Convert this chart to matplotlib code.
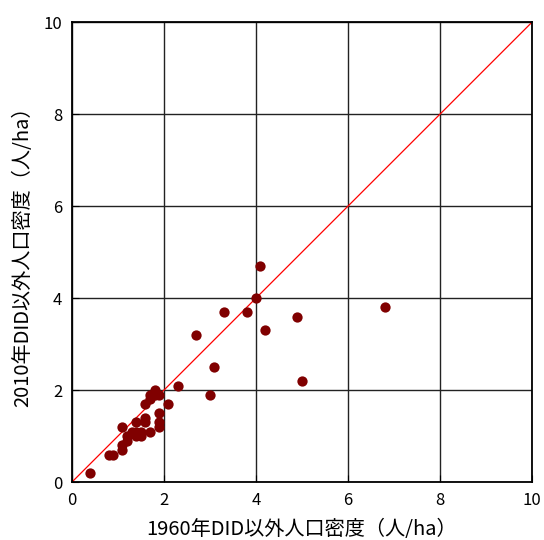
import matplotlib
matplotlib.use("Agg")
import matplotlib.pyplot as plt
import numpy as np

plt.rcParams['font.family'] = ['Noto Sans CJK JP', 'DejaVu Sans']

# 人口密度 (人/ha): 1960年 vs 2010年, DID以外
d1960 = [0.4, 0.8, 0.9, 1.1, 1.1, 1.2, 1.2, 1.3, 1.1, 1.4, 1.5, 1.4, 1.5,
         1.7, 1.4, 1.6, 1.6, 1.9, 1.9, 1.9, 1.6, 1.7, 1.7, 1.8, 1.8, 1.9,
         2.1, 2.3, 2.7, 3.0, 3.1, 3.3, 3.8, 4.0, 4.1, 4.2, 4.9, 5.0, 6.8]
d2010 = [0.2, 0.6, 0.6, 0.7, 0.8, 0.9, 1.0, 1.1, 1.2, 1.0, 1.0, 1.1, 1.1,
         1.1, 1.3, 1.3, 1.4, 1.2, 1.3, 1.5, 1.7, 1.8, 1.9, 1.9, 2.0, 1.9,
         1.7, 2.1, 3.2, 1.9, 2.5, 3.7, 3.7, 4.0, 4.7, 3.3, 3.6, 2.2, 3.8]
ticks = [0, 2, 4, 6, 8, 10]

fig = plt.figure(figsize=(5.44, 5.40), dpi=100)
ax = fig.add_axes([0.132, 0.107, 0.846, 0.852])

ax.plot([0, 10], [0, 10], color='red', lw=0.9, zorder=2)
ax.plot(d1960, d2010, 'o', color='#800000', ms=7.4, mec='none', zorder=3)

ax.set_xlim(0, 10)
ax.set_ylim(0, 10)
ax.set_xticks(ticks)
ax.set_yticks(ticks)
ax.grid(True, color='#222222', lw=1.0)
ax.tick_params(direction='in', length=5, labelsize=12, pad=7)
for s in ax.spines.values():
    s.set_linewidth(1.3)

ax.set_xlabel('1960年DID以外人口密度（人/ha）', fontsize=14.5, labelpad=7)
ax.set_ylabel('2010年DID以外人口密度（人/ha）', fontsize=14.5, labelpad=7)

fig.savefig('out.png', dpi=100)
